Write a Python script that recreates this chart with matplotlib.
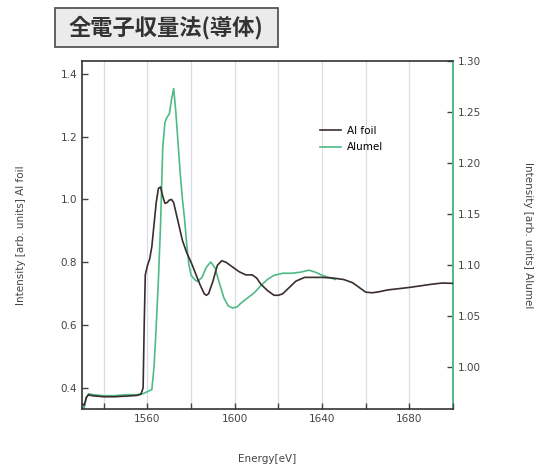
import matplotlib
matplotlib.use("Agg")
import matplotlib.pyplot as plt
import matplotlib.patches as patches
from matplotlib.ticker import MultipleLocator

# Al foil (左軸)
energy_al = [1530, 1531, 1532, 1533, 1535, 1540, 1545, 1550, 1555, 1557, 1558, 1558.5,
             1559, 1560, 1561, 1562, 1563, 1564, 1565, 1566, 1567, 1568, 1569, 1570,
             1571, 1572, 1574, 1576, 1578, 1580, 1582, 1584, 1586, 1587, 1588, 1590,
             1592, 1594, 1596, 1598, 1600, 1602, 1605, 1608, 1610, 1612, 1615, 1618,
             1620, 1622, 1625, 1628, 1632, 1636, 1640, 1645, 1650, 1654, 1657, 1660,
             1663, 1666, 1670, 1675, 1680, 1685, 1690, 1695, 1700]
intensity_al = [0.35, 0.345, 0.37, 0.378, 0.375, 0.372, 0.372, 0.374, 0.376, 0.38, 0.40, 0.60,
                0.76, 0.79, 0.81, 0.85, 0.92, 0.99, 1.035, 1.04, 1.01, 0.988, 0.99, 0.998,
                1.0, 0.99, 0.93, 0.87, 0.83, 0.80, 0.765, 0.73, 0.70, 0.695, 0.70, 0.74,
                0.79, 0.805, 0.80, 0.79, 0.78, 0.77, 0.76, 0.76, 0.75, 0.73, 0.71, 0.695,
                0.695, 0.70, 0.72, 0.74, 0.752, 0.752, 0.752, 0.75, 0.745, 0.735, 0.72, 0.705,
                0.703, 0.706, 0.712, 0.716, 0.72, 0.725, 0.73, 0.734, 0.733]

# Alumel (右軸)
energy_alumel = [1530, 1531, 1532, 1533, 1535, 1540, 1545, 1550, 1555, 1558, 1560, 1562,
                 1563, 1564, 1565, 1566, 1567, 1568, 1569, 1570, 1571, 1572, 1573, 1574,
                 1575, 1576, 1577, 1578, 1579, 1580, 1582, 1583, 1585, 1587, 1589, 1591,
                 1593, 1595, 1597, 1599, 1601, 1603, 1606, 1609, 1612, 1615, 1618, 1622,
                 1626, 1630, 1634, 1637, 1640, 1643, 1646]
intensity_alumel = [0.962, 0.96, 0.97, 0.974, 0.973, 0.972, 0.972, 0.973, 0.973, 0.974, 0.976, 0.978,
                    1.0, 1.04, 1.085, 1.14, 1.215, 1.24, 1.245, 1.248, 1.262, 1.273, 1.25, 1.22,
                    1.19, 1.165, 1.145, 1.12, 1.10, 1.09, 1.085, 1.084, 1.088, 1.098, 1.103, 1.097,
                    1.082, 1.068, 1.060, 1.058, 1.059, 1.063, 1.068, 1.073, 1.08, 1.086, 1.09, 1.092,
                    1.092, 1.093, 1.095, 1.093, 1.09, 1.088, 1.086]

title_text = "全電子収量法(導体)"
dark = "#3a2d2d"
green = "#4fba86"

fig = plt.figure(figsize=(5.37, 4.68), dpi=100)
ax1 = fig.add_axes([0.1527, 0.1261, 0.6909, 0.7436])
ax2 = ax1.twinx()

ax1.plot(energy_al, intensity_al, color=dark, lw=1.2, label="Al foil", zorder=3)
ax2.plot(energy_alumel, intensity_alumel, color=green, lw=1.2, label="Alumel", zorder=2)
ax1.set_zorder(ax2.get_zorder() + 1)
ax1.patch.set_visible(False)

ax1.set_xlim(1530, 1700)
ax1.set_ylim(0.333, 1.441)
ax2.set_ylim(0.959, 1.30)

ax1.xaxis.set_minor_locator(MultipleLocator(20))
ax1.set_xticks([1560, 1600, 1640, 1680])
ax1.yaxis.set_major_locator(MultipleLocator(0.2))
ax2.set_yticks([1.00, 1.05, 1.10, 1.15, 1.20, 1.25, 1.30])
ax2.set_yticklabels(["1.00", "1.05", "1.10", "1.15", "1.20", "1.25", "1.30"])

for x in range(1540, 1700, 20):
    ax2.axvline(x, color="#d9dde8", lw=0.9, zorder=0)

ax1.tick_params(axis="both", which="both", direction="in", labelsize=7.5, colors="#444444",
                length=4, width=1)
ax2.tick_params(axis="y", direction="in", labelsize=7.5, colors="#444444", length=4, width=1)

for sp in ["left", "bottom", "top"]:
    ax1.spines[sp].set_color("#333333")
    ax1.spines[sp].set_linewidth(1.2)
ax1.spines["right"].set_visible(False)
for sp in ["left", "bottom", "top"]:
    ax2.spines[sp].set_visible(False)
ax2.spines["right"].set_color(green)
ax2.spines["right"].set_linewidth(1.4)

ax1.set_xlabel("Energy[eV]", fontsize=7.5, color="#444444", labelpad=22)
ax1.set_ylabel("Intensity [arb. units] Al foil", fontsize=7.5, color="#444444", labelpad=25)
ax2.set_ylabel("Intensity [arb. units] Alumel", fontsize=7.5, color="#444444",
               rotation=270, labelpad=37)

h1, l1 = ax1.get_legend_handles_labels()
h2, l2 = ax2.get_legend_handles_labels()
ax1.legend(h1 + h2, l1 + l2, loc="upper left", bbox_to_anchor=(0.615, 0.84), frameon=False,
           fontsize=7.5, handlelength=2.1, handletextpad=0.5, labelspacing=0.6)

# タイトルボックス
fig.patches.append(patches.Rectangle((55 / 537, 1 - 47 / 468), 223 / 537, 39 / 468,
                                     transform=fig.transFigure, facecolor="#ebebeb",
                                     edgecolor="#555555", lw=1.3))
fig.text(166 / 537, 1 - 27.5 / 468, title_text, ha="center", va="center", fontsize=16,
         fontweight="bold", color="#333333", family=["Noto Sans CJK JP", "DejaVu Sans"])

fig.savefig("out.png", dpi=100)
